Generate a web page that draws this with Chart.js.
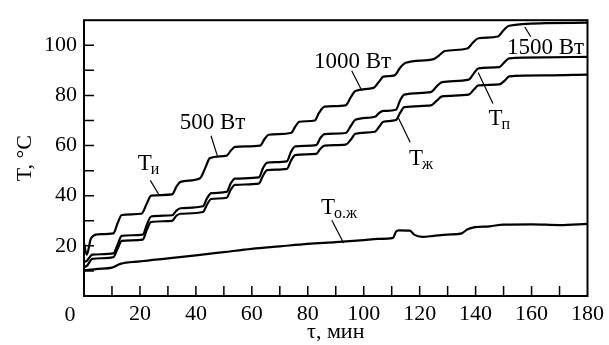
<!DOCTYPE html>
<html>
<head>
<meta charset="utf-8">
<script src="https://cdn.jsdelivr.net/npm/chart.js@4.4.0/dist/chart.umd.min.js"></script>
<style>
  html, body { margin: 0; padding: 0; background: #fff; }
  #wrap { width: 609px; height: 345px; }
</style>
</head>
<body>
<div id="wrap"><canvas id="myChart"></canvas></div>
<script>
// time, min -> temperature, °C
const tI = [0, 1, 2.5, 5, 10.5, 12, 13.5, 20.5, 22.5, 24, 31.5, 33, 34.5, 41.5, 43.5, 45, 51, 52.5, 54, 63, 64.5, 66, 74, 75.5, 77, 82.5, 84, 86, 93.5, 95.5, 97, 103.5, 105.5, 107, 111, 113, 115, 125, 127, 129, 137, 139, 141, 148, 150, 152, 165, 180];
const vI = [21, 16.5, 23, 24.6, 25, 29, 32.3, 32.8, 37, 40, 40.5, 43.5, 45.5, 47, 51.5, 55, 56, 58, 59.5, 60, 62.5, 64.3, 65, 67.5, 69.5, 70, 73, 75.5, 76, 79.5, 81.8, 83, 85.5, 87.5, 88, 91, 93, 94.5, 96, 97.7, 98.7, 101, 102.8, 103.5, 106, 107.8, 108.8, 109];

const tP = [0, 1, 3, 10.5, 12, 13.5, 21, 22.5, 24, 31.5, 33, 34.5, 42.5, 44, 45.5, 51, 52.5, 54, 62.5, 64, 65.5, 72.5, 74, 75.5, 83, 84.5, 86, 93.5, 95.5, 97, 104, 105.5, 107, 111.5, 113, 114.5, 124, 126, 128, 137.5, 139.5, 141, 148.5, 150.5, 152, 165, 180];
const vP = [13.5, 14, 16.5, 17, 20.5, 24, 24.5, 28.5, 31.7, 32.2, 34, 35, 35.8, 39, 41, 41.5, 45, 46.8, 47.3, 51, 53.2, 53.7, 57.5, 59.7, 60.2, 63, 64.6, 65, 68, 70.3, 71.5, 73, 73.8, 74.3, 78, 80.3, 81.3, 83.5, 85.3, 86.3, 89, 90.8, 91.3, 93.5, 94.8, 95.2, 95.4];

const tZh = tP;
const vZh = [11.5, 12, 14.8, 15.5, 18.8, 22, 22.5, 26.5, 29.5, 30, 32, 32.8, 33.5, 36.5, 38.7, 39.2, 42.5, 44.3, 44.8, 48, 50.2, 50.7, 54, 56.2, 56.7, 58.7, 60, 60.4, 62.5, 64.7, 65.5, 67.5, 69.5, 70.2, 73, 75.3, 76, 77.8, 79.6, 80.3, 82.5, 84, 84.4, 86, 87.6, 88, 88.3];

const tOZh = [0, 5, 10, 13, 20, 30, 40, 50, 60, 70, 80, 90, 100, 105, 110.5, 111.5, 112.5, 116.5, 118, 121, 125, 130, 135, 137, 139, 145, 150, 160, 170, 180];
const vOZh = [10.2, 10.8, 11.3, 12.8, 13.8, 15, 16.2, 17.5, 18.8, 19.8, 20.8, 21.5, 22.3, 22.8, 23.2, 25.6, 26.2, 26.1, 24.5, 23.6, 24, 24.5, 25, 26.5, 27.3, 27.8, 28.5, 28.6, 28.3, 28.8];

const xLabels = [0, 20, 40, 60, 80, 100, 120, 140, 160, 180];
const yLabels = [20, 40, 60, 80, 100];

// curve captions: text, subscript, anchor (min, °C), leader line from/to (min, °C)
const captions = [
  { text: 'T', sub: 'и', x: 19.2, y: 50.1, from: [23.7, 46.1], to: [27.0, 40.0] },
  { text: '500 Вт', sub: '', x: 34.2, y: 66.5, from: [45.4, 63.9], to: [47.8, 55.5] },
  { text: '1000 Вт', sub: '', x: 82.2, y: 90.9, from: [95.7, 89.8], to: [99.3, 82.0] },
  { text: '1500 Вт', sub: '', x: 151.2, y: 96.4, from: [159.7, 103.4], to: [157.6, 107.3] },
  { text: 'T', sub: 'п', x: 144.6, y: 68.4, from: [146.2, 76.8], to: [140.9, 89.1] },
  { text: 'T', sub: 'ж', x: 116.2, y: 52.1, from: [116.6, 61.3], to: [112.4, 71.0] },
  { text: 'T', sub: 'о.ж', x: 84.7, y: 32.6, from: [88.6, 30.2], to: [92.8, 21.1] }
];

const serif = "'Liberation Serif', 'Times New Roman', serif";

function pts(ts, vs) {
  return ts.map((t, i) => ({ x: t, y: vs[i] }));
}

function line(label, ts, vs) {
  return {
    label: label,
    data: pts(ts, vs),
    borderColor: '#000',
    borderWidth: 2.2,
    pointRadius: 0,
    fill: false,
    cubicInterpolationMode: 'monotone'
  };
}

const framePlugin = {
  id: 'frame',
  afterDraw(chart) {
    const ctx = chart.ctx;
    const a = chart.chartArea;
    const xs = chart.scales.x;
    const ys = chart.scales.y;
    ctx.save();
    ctx.strokeStyle = '#000';
    ctx.lineWidth = 2;
    ctx.strokeRect(a.left, a.top, a.right - a.left, a.bottom - a.top);

    // inward ticks every 10
    ctx.lineWidth = 1.5;
    ctx.beginPath();
    for (let t = 10; t < 180; t += 10) {
      const px = xs.getPixelForValue(t);
      ctx.moveTo(px, a.bottom);
      ctx.lineTo(px, a.bottom - 10);
    }
    for (let v = 10; v < 110; v += 10) {
      const py = ys.getPixelForValue(v);
      ctx.moveTo(a.left, py);
      ctx.lineTo(a.left + 10, py);
    }
    ctx.stroke();

    // origin label sits left of the corner
    ctx.fillStyle = '#000';
    ctx.font = '22px ' + serif;
    ctx.textAlign = 'center';
    ctx.textBaseline = 'alphabetic';
    ctx.fillText('0', a.left - 14, a.bottom + 25);

    // captions
    ctx.textAlign = 'left';
    ctx.lineWidth = 1.2;
    captions.forEach(c => {
      const px = xs.getPixelForValue(c.x);
      const py = ys.getPixelForValue(c.y);
      ctx.font = '23px ' + serif;
      ctx.fillText(c.text, px, py);
      if (c.sub) {
        const w = ctx.measureText(c.text).width;
        ctx.font = '16px ' + serif;
        ctx.fillText(c.sub, px + w - 1, py + 4);
      }
      ctx.beginPath();
      ctx.moveTo(xs.getPixelForValue(c.from[0]), ys.getPixelForValue(c.from[1]));
      ctx.lineTo(xs.getPixelForValue(c.to[0]), ys.getPixelForValue(c.to[1]));
      ctx.stroke();
    });
    ctx.restore();
  }
};

const ctx = document.getElementById('myChart').getContext('2d');
const myChart = new Chart(ctx, {
  type: 'line',
  data: {
    datasets: [
      line('Tи', tI, vI),
      line('Tп', tP, vP),
      line('Tж', tZh, vZh),
      line('Tо.ж', tOZh, vOZh)
    ]
  },
  options: {
    responsive: true,
    maintainAspectRatio: false,
    animation: false,
    events: [],
    layout: { padding: { top: 13, right: 19, left: 0, bottom: 0 } },
    plugins: {
      legend: { display: false },
      tooltip: { enabled: false }
    },
    scales: {
      x: {
        type: 'linear',
        min: 0,
        max: 180,
        afterBuildTicks: s => { s.ticks = xLabels.map(v => ({ value: v })); },
        afterFit: s => { s.height = 49; },
        grid: { display: false, drawTicks: false },
        border: { display: false },
        ticks: {
          color: '#000',
          padding: 5,
          maxRotation: 0,
          font: { family: serif, size: 22 },
          callback: v => (v === 0 ? '' : v)
        },
        title: {
          display: true,
          text: 'τ, мин',
          color: '#000',
          padding: { top: 0, bottom: 0 },
          font: { family: serif, size: 22 }
        }
      },
      y: {
        type: 'linear',
        min: 0,
        max: 110,
        afterBuildTicks: s => { s.ticks = yLabels.map(v => ({ value: v })); },
        afterFit: s => { s.width = 84; },
        grid: { display: false, drawTicks: false },
        border: { display: false },
        ticks: {
          color: '#000',
          padding: 7,
          font: { family: serif, size: 22 }
        },
        title: {
          display: true,
          text: 'T, °C',
          color: '#000',
          padding: { top: 12, bottom: 0 },
          font: { family: serif, size: 22 }
        }
      }
    }
  },
  plugins: [framePlugin]
});
</script>
</body>
</html>
